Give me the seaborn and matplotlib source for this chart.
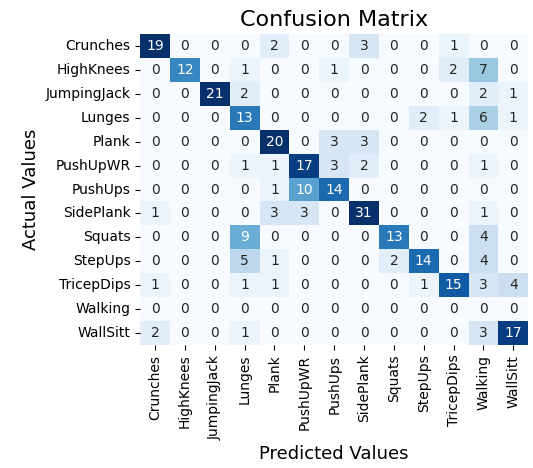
import matplotlib
matplotlib.use("Agg")
import matplotlib.pyplot as plt
import seaborn as sns
import pandas as pd

labels = ["Crunches", "HighKnees", "JumpingJack", "Lunges", "Plank", "PushUpWR",
          "PushUps", "SidePlank", "Squats", "StepUps", "TricepDips", "Walking", "WallSitt"]
crunches = [19, 0, 0, 0, 2, 0, 0, 3, 0, 0, 1, 0, 0]
highknees = [0, 12, 0, 1, 0, 0, 1, 0, 0, 0, 2, 7, 0]
jumpingjack = [0, 0, 21, 2, 0, 0, 0, 0, 0, 0, 0, 2, 1]
lunges = [0, 0, 0, 13, 0, 0, 0, 0, 0, 2, 1, 6, 1]
plank = [0, 0, 0, 0, 20, 0, 3, 3, 0, 0, 0, 0, 0]
pushupwr = [0, 0, 0, 1, 1, 17, 3, 2, 0, 0, 0, 1, 0]
pushups = [0, 0, 0, 0, 1, 10, 14, 0, 0, 0, 0, 0, 0]
sideplank = [1, 0, 0, 0, 3, 3, 0, 31, 0, 0, 0, 1, 0]
squats = [0, 0, 0, 9, 0, 0, 0, 0, 13, 0, 0, 4, 0]
stepups = [0, 0, 0, 5, 1, 0, 0, 0, 2, 14, 0, 4, 0]
tricepdips = [1, 0, 0, 1, 1, 0, 0, 0, 0, 1, 15, 3, 4]
walking = [0, 0, 0, 0, 0, 0, 0, 0, 0, 0, 0, 0, 0]
wallsitt = [2, 0, 0, 1, 0, 0, 0, 0, 0, 0, 0, 3, 17]

cm = pd.DataFrame([crunches, highknees, jumpingjack, lunges, plank, pushupwr, pushups,
                   sideplank, squats, stepups, tricepdips, walking, wallsitt],
                  index=labels, columns=labels)

fig = plt.figure(figsize=(5.33, 4.68), dpi=100)
ax = fig.add_axes([0.263, 0.263, 0.728, 0.664])
sns.heatmap(cm, annot=True, fmt="d", cmap="Blues", vmax=18, cbar=False, ax=ax)
ax.set_title("Confusion Matrix", fontsize=16)
ax.set_xlabel("Predicted Values", fontsize=13)
ax.set_ylabel("Actual Values", fontsize=13)
fig.savefig("out.png", dpi=100)
